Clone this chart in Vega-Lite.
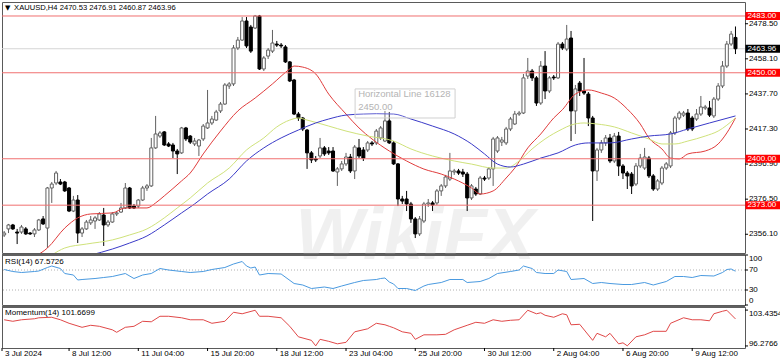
{
"$schema":"https://vega.github.io/schema/vega-lite/v6.json",
"padding":{"left":0,"top":1,"right":0,"bottom":0},
"background":"#ffffff",
"bounds":"flush",
"spacing":2,
"config":{"view":{"stroke":"#5a5a5a","strokeWidth":1},"scale":{"continuousPadding":0},"text":{"font":"Liberation Sans","fontSize":8,"color":"#000000"}},
"datasets":{
"candles":[
{"i":0,"o":2355.7,"h":2358.0,"l":2354.5,"c":2356.8},
{"i":1,"o":2359.2,"h":2362.1,"l":2356.8,"c":2361.5},
{"i":2,"o":2361.5,"h":2362.1,"l":2358.6,"c":2359.2},
{"i":3,"o":2357.4,"h":2359.2,"l":2350.4,"c":2356.8},
{"i":4,"o":2357.4,"h":2361.5,"l":2356.3,"c":2360.3},
{"i":5,"o":2359.2,"h":2360.3,"l":2355.7,"c":2356.3},
{"i":6,"o":2356.8,"h":2357.4,"l":2355.7,"c":2356.3},
{"i":7,"o":2356.3,"h":2359.7,"l":2354.5,"c":2358.6},
{"i":8,"o":2358.6,"h":2365.0,"l":2358.0,"c":2364.4},
{"i":9,"o":2365.0,"h":2366.7,"l":2361.5,"c":2362.1},
{"i":10,"o":2359.7,"h":2383.6,"l":2348.1,"c":2383.0},
{"i":11,"o":2383.0,"h":2386.5,"l":2374.3,"c":2385.3},
{"i":12,"o":2385.9,"h":2392.9,"l":2384.7,"c":2391.7},
{"i":13,"o":2386.5,"h":2388.2,"l":2384.7,"c":2385.3},
{"i":14,"o":2386.5,"h":2387.1,"l":2380.7,"c":2381.3},
{"i":15,"o":2383.0,"h":2383.6,"l":2369.0,"c":2369.6},
{"i":16,"o":2369.6,"h":2378.4,"l":2369.0,"c":2376.0},
{"i":17,"o":2376.0,"h":2378.9,"l":2351.0,"c":2356.8},
{"i":18,"o":2356.8,"h":2360.3,"l":2354.5,"c":2359.2},
{"i":19,"o":2359.2,"h":2364.4,"l":2358.6,"c":2363.2},
{"i":20,"o":2362.7,"h":2366.7,"l":2361.5,"c":2364.4},
{"i":21,"o":2363.8,"h":2366.7,"l":2359.2,"c":2365.6},
{"i":22,"o":2364.4,"h":2369.0,"l":2363.8,"c":2367.9},
{"i":23,"o":2367.3,"h":2371.4,"l":2349.3,"c":2361.5},
{"i":24,"o":2361.5,"h":2364.4,"l":2360.3,"c":2363.2},
{"i":25,"o":2363.2,"h":2369.0,"l":2362.7,"c":2367.9},
{"i":26,"o":2367.9,"h":2369.6,"l":2366.7,"c":2368.5},
{"i":27,"o":2369.0,"h":2374.3,"l":2368.5,"c":2371.4},
{"i":28,"o":2371.4,"h":2385.9,"l":2370.8,"c":2383.0},
{"i":29,"o":2383.0,"h":2383.6,"l":2370.8,"c":2371.4},
{"i":30,"o":2372.5,"h":2373.7,"l":2370.8,"c":2371.4},
{"i":31,"o":2372.5,"h":2376.6,"l":2371.4,"c":2376.0},
{"i":32,"o":2376.0,"h":2384.2,"l":2375.4,"c":2383.0},
{"i":33,"o":2383.0,"h":2385.3,"l":2381.3,"c":2384.2},
{"i":34,"o":2384.2,"h":2412.1,"l":2383.6,"c":2406.3},
{"i":35,"o":2406.3,"h":2424.9,"l":2405.7,"c":2414.4},
{"i":36,"o":2413.2,"h":2416.1,"l":2412.1,"c":2415.0},
{"i":37,"o":2415.6,"h":2416.1,"l":2407.4,"c":2408.0},
{"i":38,"o":2408.6,"h":2409.7,"l":2406.8,"c":2407.4},
{"i":39,"o":2408.0,"h":2409.2,"l":2400.4,"c":2404.5},
{"i":40,"o":2404.5,"h":2405.7,"l":2391.1,"c":2402.8},
{"i":41,"o":2403.4,"h":2418.5,"l":2402.8,"c":2417.9},
{"i":42,"o":2417.9,"h":2418.5,"l":2410.3,"c":2411.5},
{"i":43,"o":2413.2,"h":2413.8,"l":2408.6,"c":2409.7},
{"i":44,"o":2408.6,"h":2412.1,"l":2407.4,"c":2410.3},
{"i":45,"o":2407.4,"h":2411.5,"l":2401.6,"c":2410.9},
{"i":46,"o":2411.5,"h":2420.2,"l":2410.3,"c":2419.0},
{"i":47,"o":2417.9,"h":2440.0,"l":2417.3,"c":2420.8},
{"i":48,"o":2420.8,"h":2424.9,"l":2419.6,"c":2423.1},
{"i":49,"o":2422.5,"h":2428.4,"l":2422.0,"c":2427.2},
{"i":50,"o":2427.8,"h":2433.0,"l":2426.6,"c":2431.8},
{"i":51,"o":2431.8,"h":2444.0,"l":2431.3,"c":2442.9},
{"i":52,"o":2442.3,"h":2444.6,"l":2440.6,"c":2443.5},
{"i":53,"o":2443.5,"h":2466.1,"l":2442.3,"c":2464.4},
{"i":54,"o":2464.4,"h":2470.8,"l":2463.2,"c":2469.0},
{"i":55,"o":2469.0,"h":2482.4,"l":2468.5,"c":2480.1},
{"i":56,"o":2480.1,"h":2482.4,"l":2464.4,"c":2465.6},
{"i":57,"o":2476.6,"h":2477.8,"l":2461.5,"c":2462.6},
{"i":58,"o":2476.0,"h":2483.6,"l":2475.4,"c":2483.0},
{"i":59,"o":2483.0,"h":2483.6,"l":2451.6,"c":2452.2},
{"i":60,"o":2452.2,"h":2459.7,"l":2451.0,"c":2458.6},
{"i":61,"o":2459.7,"h":2464.4,"l":2458.0,"c":2463.2},
{"i":62,"o":2462.6,"h":2474.9,"l":2461.5,"c":2467.3},
{"i":63,"o":2466.7,"h":2468.5,"l":2465.0,"c":2466.1},
{"i":64,"o":2466.1,"h":2467.3,"l":2464.4,"c":2465.6},
{"i":65,"o":2465.0,"h":2466.1,"l":2455.7,"c":2456.3},
{"i":66,"o":2456.3,"h":2456.8,"l":2444.6,"c":2445.2},
{"i":67,"o":2445.8,"h":2446.4,"l":2425.4,"c":2426.0},
{"i":68,"o":2426.0,"h":2427.2,"l":2422.0,"c":2423.7},
{"i":69,"o":2423.7,"h":2424.3,"l":2416.1,"c":2417.3},
{"i":70,"o":2416.7,"h":2417.3,"l":2394.1,"c":2403.4},
{"i":71,"o":2403.4,"h":2404.5,"l":2397.5,"c":2399.3},
{"i":72,"o":2399.9,"h":2401.6,"l":2398.1,"c":2399.3},
{"i":73,"o":2401.6,"h":2412.1,"l":2400.4,"c":2406.3},
{"i":74,"o":2406.3,"h":2407.4,"l":2401.6,"c":2402.8},
{"i":75,"o":2404.5,"h":2406.8,"l":2402.2,"c":2403.4},
{"i":76,"o":2404.5,"h":2406.8,"l":2392.3,"c":2392.9},
{"i":77,"o":2392.3,"h":2395.2,"l":2384.2,"c":2394.1},
{"i":78,"o":2394.1,"h":2398.7,"l":2392.9,"c":2397.0},
{"i":79,"o":2397.0,"h":2403.4,"l":2395.8,"c":2401.0},
{"i":80,"o":2401.0,"h":2402.8,"l":2391.7,"c":2392.9},
{"i":81,"o":2392.9,"h":2408.0,"l":2388.2,"c":2406.8},
{"i":82,"o":2406.3,"h":2411.5,"l":2400.4,"c":2401.6},
{"i":83,"o":2405.1,"h":2406.8,"l":2398.7,"c":2400.4},
{"i":84,"o":2405.1,"h":2410.3,"l":2403.9,"c":2409.2},
{"i":85,"o":2409.2,"h":2410.3,"l":2407.4,"c":2408.6},
{"i":86,"o":2409.2,"h":2417.3,"l":2408.0,"c":2416.1},
{"i":87,"o":2412.1,"h":2419.0,"l":2410.9,"c":2417.9},
{"i":88,"o":2410.3,"h":2427.8,"l":2409.7,"c":2422.0},
{"i":89,"o":2422.0,"h":2427.2,"l":2408.6,"c":2409.2},
{"i":90,"o":2409.2,"h":2410.3,"l":2396.4,"c":2397.0},
{"i":91,"o":2397.0,"h":2397.5,"l":2372.5,"c":2376.6},
{"i":92,"o":2376.6,"h":2378.4,"l":2373.7,"c":2375.4},
{"i":93,"o":2376.6,"h":2381.3,"l":2369.6,"c":2373.7},
{"i":94,"o":2373.7,"h":2374.9,"l":2362.7,"c":2365.0},
{"i":95,"o":2365.0,"h":2366.1,"l":2353.9,"c":2356.3},
{"i":96,"o":2356.3,"h":2366.7,"l":2355.1,"c":2365.0},
{"i":97,"o":2363.8,"h":2374.9,"l":2362.7,"c":2373.7},
{"i":98,"o":2373.7,"h":2376.6,"l":2372.0,"c":2374.3},
{"i":99,"o":2374.3,"h":2375.4,"l":2369.6,"c":2373.1},
{"i":100,"o":2374.3,"h":2382.4,"l":2373.1,"c":2381.3},
{"i":101,"o":2381.3,"h":2385.3,"l":2378.4,"c":2384.2},
{"i":102,"o":2384.2,"h":2390.6,"l":2383.0,"c":2389.4},
{"i":103,"o":2388.2,"h":2403.4,"l":2387.1,"c":2392.9},
{"i":104,"o":2392.3,"h":2394.1,"l":2390.6,"c":2392.9},
{"i":105,"o":2392.9,"h":2394.1,"l":2390.6,"c":2391.7},
{"i":106,"o":2392.3,"h":2394.1,"l":2389.4,"c":2391.1},
{"i":107,"o":2391.1,"h":2392.3,"l":2369.6,"c":2377.2},
{"i":108,"o":2377.2,"h":2385.3,"l":2376.0,"c":2384.2},
{"i":109,"o":2382.4,"h":2383.6,"l":2378.4,"c":2379.5},
{"i":110,"o":2379.5,"h":2390.0,"l":2378.9,"c":2388.8},
{"i":111,"o":2388.8,"h":2390.0,"l":2387.1,"c":2388.2},
{"i":112,"o":2388.8,"h":2395.2,"l":2387.7,"c":2394.1},
{"i":113,"o":2394.1,"h":2412.7,"l":2384.2,"c":2411.5},
{"i":114,"o":2404.5,"h":2413.2,"l":2403.4,"c":2412.1},
{"i":115,"o":2409.7,"h":2412.7,"l":2407.4,"c":2410.9},
{"i":116,"o":2409.2,"h":2418.5,"l":2408.0,"c":2417.3},
{"i":117,"o":2417.3,"h":2424.3,"l":2416.1,"c":2423.1},
{"i":118,"o":2420.2,"h":2427.8,"l":2419.6,"c":2426.0},
{"i":119,"o":2426.0,"h":2427.8,"l":2424.9,"c":2426.6},
{"i":120,"o":2426.6,"h":2449.3,"l":2426.0,"c":2447.0},
{"i":121,"o":2448.1,"h":2458.6,"l":2446.4,"c":2451.0},
{"i":122,"o":2451.0,"h":2452.2,"l":2445.2,"c":2447.0},
{"i":123,"o":2447.0,"h":2448.1,"l":2430.7,"c":2432.4},
{"i":124,"o":2432.4,"h":2456.8,"l":2431.3,"c":2453.9},
{"i":125,"o":2453.9,"h":2462.6,"l":2434.7,"c":2439.4},
{"i":126,"o":2439.4,"h":2448.1,"l":2438.2,"c":2447.0},
{"i":127,"o":2447.5,"h":2448.7,"l":2445.8,"c":2447.0},
{"i":128,"o":2447.0,"h":2467.9,"l":2446.4,"c":2466.7},
{"i":129,"o":2466.7,"h":2467.9,"l":2463.2,"c":2464.4},
{"i":130,"o":2463.8,"h":2477.8,"l":2462.6,"c":2469.6},
{"i":131,"o":2470.2,"h":2474.3,"l":2410.3,"c":2427.8},
{"i":132,"o":2427.8,"h":2442.9,"l":2414.4,"c":2440.6},
{"i":133,"o":2444.0,"h":2445.2,"l":2436.5,"c":2439.4},
{"i":134,"o":2439.4,"h":2458.6,"l":2437.1,"c":2438.2},
{"i":135,"o":2437.6,"h":2438.8,"l":2419.0,"c":2423.7},
{"i":136,"o":2423.7,"h":2424.9,"l":2363.8,"c":2392.9},
{"i":137,"o":2392.9,"h":2406.3,"l":2387.1,"c":2405.1},
{"i":138,"o":2405.1,"h":2410.9,"l":2403.4,"c":2409.2},
{"i":139,"o":2409.2,"h":2413.8,"l":2407.4,"c":2412.1},
{"i":140,"o":2412.1,"h":2414.4,"l":2397.5,"c":2398.7},
{"i":141,"o":2398.7,"h":2415.0,"l":2397.5,"c":2413.2},
{"i":142,"o":2413.2,"h":2415.6,"l":2390.0,"c":2395.8},
{"i":143,"o":2395.8,"h":2396.9,"l":2388.2,"c":2391.7},
{"i":144,"o":2391.7,"h":2392.9,"l":2382.4,"c":2390.0},
{"i":145,"o":2391.1,"h":2392.3,"l":2379.5,"c":2384.2},
{"i":146,"o":2385.3,"h":2397.5,"l":2384.2,"c":2395.8},
{"i":147,"o":2395.8,"h":2402.8,"l":2394.6,"c":2400.4},
{"i":148,"o":2394.6,"h":2406.3,"l":2393.5,"c":2401.0},
{"i":149,"o":2400.4,"h":2401.6,"l":2388.8,"c":2390.0},
{"i":150,"o":2390.0,"h":2391.1,"l":2381.3,"c":2382.4},
{"i":151,"o":2382.4,"h":2388.2,"l":2381.3,"c":2387.1},
{"i":152,"o":2385.9,"h":2395.8,"l":2384.7,"c":2394.6},
{"i":153,"o":2394.6,"h":2398.1,"l":2393.5,"c":2397.0},
{"i":154,"o":2395.8,"h":2416.1,"l":2394.6,"c":2415.0},
{"i":155,"o":2415.0,"h":2424.9,"l":2413.8,"c":2423.7},
{"i":156,"o":2423.7,"h":2427.8,"l":2422.5,"c":2426.6},
{"i":157,"o":2425.4,"h":2427.8,"l":2424.3,"c":2426.6},
{"i":158,"o":2426.6,"h":2428.9,"l":2416.1,"c":2417.3},
{"i":159,"o":2423.7,"h":2424.9,"l":2416.1,"c":2417.3},
{"i":160,"o":2423.1,"h":2428.9,"l":2422.0,"c":2426.0},
{"i":161,"o":2426.0,"h":2436.5,"l":2424.9,"c":2430.1},
{"i":162,"o":2429.5,"h":2431.3,"l":2428.4,"c":2430.1},
{"i":163,"o":2429.5,"h":2433.6,"l":2424.3,"c":2425.4},
{"i":164,"o":2424.9,"h":2435.9,"l":2423.7,"c":2434.7},
{"i":165,"o":2434.7,"h":2444.0,"l":2433.6,"c":2442.3},
{"i":166,"o":2442.3,"h":2456.8,"l":2441.1,"c":2453.9},
{"i":167,"o":2453.9,"h":2468.5,"l":2452.8,"c":2466.7},
{"i":168,"o":2466.7,"h":2474.3,"l":2465.6,"c":2472.5},
{"i":169,"o":2470.53,"h":2476.91,"l":2460.87,"c":2463.96}
],
"ma":[
{"s":"r","i":7,"v":2343},{"s":"r","i":10,"v":2348.1},{"s":"r","i":14,"v":2359.7},{"s":"r","i":17,"v":2365.6},{"s":"r","i":20,"v":2367.9},{"s":"r","i":25,"v":2368.5},{"s":"r","i":28,"v":2371.4},{"s":"r","i":33,"v":2371.4},{"s":"r","i":35,"v":2374.3},{"s":"r","i":37,"v":2378.4},{"s":"r","i":41,"v":2387.1},{"s":"r","i":43,"v":2391.7},{"s":"r","i":46,"v":2402.8},{"s":"r","i":50,"v":2416.1},{"s":"r","i":54,"v":2427.8},{"s":"r","i":58,"v":2435.3},{"s":"r","i":62,"v":2443.5},{"s":"r","i":66,"v":2452.2},{"s":"r","i":67,"v":2453.9},{"s":"r","i":69,"v":2453.3},{"s":"r","i":72,"v":2449.3},{"s":"r","i":75,"v":2437.6},{"s":"r","i":79,"v":2426.0},{"s":"r","i":82,"v":2417.9},{"s":"r","i":85,"v":2411.5},{"s":"r","i":89,"v":2404.5},{"s":"r","i":93,"v":2398.7},{"s":"r","i":97,"v":2394.0},{"s":"r","i":101,"v":2391.1},{"s":"r","i":104,"v":2388.2},{"s":"r","i":108,"v":2383.0},{"s":"r","i":110,"v":2379.5},{"s":"r","i":113,"v":2381.3},{"s":"r","i":116,"v":2388.8},{"s":"r","i":118,"v":2394.6},{"s":"r","i":121,"v":2406.3},{"s":"r","i":124,"v":2414.4},{"s":"r","i":127,"v":2423.7},{"s":"r","i":129,"v":2428.5},{"s":"r","i":132,"v":2437.6},{"s":"r","i":135,"v":2440.0},{"s":"r","i":138,"v":2438.2},{"s":"r","i":141,"v":2435.3},{"s":"r","i":144,"v":2428.9},{"s":"r","i":147,"v":2420.2},{"s":"r","i":149,"v":2412.1},{"s":"r","i":152,"v":2405.7},{"s":"r","i":154,"v":2400.4},{"s":"r","i":156,"v":2399.9},{"s":"r","i":158,"v":2402.8},{"s":"r","i":162,"v":2404.5},{"s":"r","i":165,"v":2408.6},{"s":"r","i":167,"v":2415.0},{"s":"r","i":169,"v":2423.7},
{"s":"y","i":11,"v":2344},{"s":"y","i":14,"v":2348.1},{"s":"y","i":19,"v":2350.4},{"s":"y","i":25,"v":2352.8},{"s":"y","i":29,"v":2355.7},{"s":"y","i":33,"v":2359.2},{"s":"y","i":37,"v":2365.6},{"s":"y","i":40,"v":2371.4},{"s":"y","i":43,"v":2377.2},{"s":"y","i":47,"v":2385.9},{"s":"y","i":52,"v":2394.6},{"s":"y","i":56,"v":2405.1},{"s":"y","i":60,"v":2412.1},{"s":"y","i":63,"v":2418.5},{"s":"y","i":66,"v":2422.5},{"s":"y","i":68,"v":2423.7},{"s":"y","i":70,"v":2422.5},{"s":"y","i":75,"v":2419.0},{"s":"y","i":79,"v":2416.1},{"s":"y","i":84,"v":2413.2},{"s":"y","i":90,"v":2410.3},{"s":"y","i":94,"v":2405.7},{"s":"y","i":99,"v":2401.6},{"s":"y","i":104,"v":2398.7},{"s":"y","i":108,"v":2396.9},{"s":"y","i":113,"v":2394.6},{"s":"y","i":116,"v":2394.6},{"s":"y","i":119,"v":2398.7},{"s":"y","i":122,"v":2405.7},{"s":"y","i":125,"v":2411.5},{"s":"y","i":129,"v":2417.3},{"s":"y","i":131,"v":2419.6},{"s":"y","i":134,"v":2420.8},{"s":"y","i":137,"v":2420.2},{"s":"y","i":141,"v":2418.5},{"s":"y","i":145,"v":2415.0},{"s":"y","i":149,"v":2411.5},{"s":"y","i":152,"v":2408.6},{"s":"y","i":155,"v":2408.6},{"s":"y","i":158,"v":2410.3},{"s":"y","i":162,"v":2413.2},{"s":"y","i":165,"v":2416.1},{"s":"y","i":169,"v":2423.7},
{"s":"b","i":20,"v":2344},{"s":"b","i":25,"v":2347.5},{"s":"b","i":29,"v":2351.0},{"s":"b","i":33,"v":2355.1},{"s":"b","i":37,"v":2361.5},{"s":"b","i":41,"v":2368.5},{"s":"b","i":44,"v":2373.7},{"s":"b","i":47,"v":2379.5},{"s":"b","i":52,"v":2388.2},{"s":"b","i":56,"v":2398.7},{"s":"b","i":60,"v":2406.3},{"s":"b","i":64,"v":2412.1},{"s":"b","i":68,"v":2416.7},{"s":"b","i":72,"v":2420.8},{"s":"b","i":75,"v":2423.1},{"s":"b","i":79,"v":2425.4},{"s":"b","i":83,"v":2426.0},{"s":"b","i":86,"v":2426.2},{"s":"b","i":90,"v":2426.0},{"s":"b","i":94,"v":2423.1},{"s":"b","i":99,"v":2419.0},{"s":"b","i":104,"v":2414.4},{"s":"b","i":108,"v":2408.6},{"s":"b","i":111,"v":2402.8},{"s":"b","i":114,"v":2396.9},{"s":"b","i":117,"v":2395.2},{"s":"b","i":120,"v":2396.9},{"s":"b","i":124,"v":2400.4},{"s":"b","i":128,"v":2403.4},{"s":"b","i":132,"v":2408.0},{"s":"b","i":135,"v":2409.2},{"s":"b","i":140,"v":2409.2},{"s":"b","i":145,"v":2411.5},{"s":"b","i":149,"v":2413.2},{"s":"b","i":154,"v":2414.4},{"s":"b","i":158,"v":2417.3},{"s":"b","i":163,"v":2420.8},{"s":"b","i":169,"v":2424.9}
],
"rsi":[
{"i":0,"v":71},{"i":2,"v":67},{"i":4,"v":65},{"i":7,"v":67},{"i":8,"v":68},{"i":10,"v":75},{"i":11,"v":78},{"i":13,"v":73},{"i":14,"v":63},{"i":16,"v":60},{"i":17,"v":50},{"i":18,"v":51},{"i":21,"v":53},{"i":23,"v":55},{"i":25,"v":57},{"i":28,"v":63},{"i":30,"v":53},{"i":32,"v":60},{"i":34,"v":63},{"i":36,"v":73},{"i":38,"v":70},{"i":41,"v":67},{"i":43,"v":65},{"i":46,"v":67},{"i":48,"v":71},{"i":51,"v":75},{"i":53,"v":82},{"i":55,"v":87},{"i":56,"v":78},{"i":57,"v":74},{"i":58,"v":76},{"i":59,"v":60},{"i":61,"v":63},{"i":64,"v":62},{"i":67,"v":43},{"i":69,"v":40},{"i":71,"v":33},{"i":74,"v":36},{"i":76,"v":33},{"i":78,"v":38},{"i":81,"v":45},{"i":83,"v":49},{"i":86,"v":51},{"i":87,"v":53},{"i":88,"v":54},{"i":89,"v":46},{"i":90,"v":42},{"i":91,"v":33},{"i":93,"v":33},{"i":95,"v":29},{"i":97,"v":38},{"i":98,"v":41},{"i":101,"v":45},{"i":103,"v":51},{"i":106,"v":51},{"i":107,"v":45},{"i":110,"v":47},{"i":112,"v":53},{"i":114,"v":63},{"i":117,"v":67},{"i":119,"v":70},{"i":120,"v":78},{"i":122,"v":73},{"i":123,"v":65},{"i":125,"v":63},{"i":127,"v":63},{"i":128,"v":70},{"i":130,"v":67},{"i":131,"v":51},{"i":134,"v":53},{"i":136,"v":43},{"i":138,"v":45},{"i":140,"v":43},{"i":143,"v":41},{"i":145,"v":41},{"i":148,"v":45},{"i":150,"v":40},{"i":153,"v":47},{"i":155,"v":57},{"i":157,"v":57},{"i":159,"v":55},{"i":161,"v":59},{"i":164,"v":58},{"i":166,"v":65},{"i":167,"v":71},{"i":168,"v":72},{"i":169,"v":67.57}
],
"mom":[
{"i":0,"v":101.5},{"i":2,"v":101.2},{"i":4,"v":101.5},{"i":7,"v":101.7},{"i":8,"v":101.9},{"i":11,"v":102.0},{"i":13,"v":101.5},{"i":15,"v":100.8},{"i":18,"v":100.0},{"i":20,"v":100.4},{"i":22,"v":100.2},{"i":25,"v":99.5},{"i":26,"v":99.0},{"i":28,"v":100.0},{"i":30,"v":100.2},{"i":32,"v":101.2},{"i":34,"v":101.1},{"i":36,"v":102.2},{"i":38,"v":102.2},{"i":41,"v":101.9},{"i":43,"v":101.5},{"i":46,"v":101.5},{"i":48,"v":100.8},{"i":51,"v":101.2},{"i":53,"v":103.0},{"i":55,"v":102.7},{"i":58,"v":103.4},{"i":59,"v":102.2},{"i":61,"v":102.2},{"i":64,"v":101.9},{"i":66,"v":100.2},{"i":68,"v":98.1},{"i":71,"v":97.4},{"i":72,"v":96.3},{"i":73,"v":97.6},{"i":75,"v":97.2},{"i":77,"v":96.7},{"i":79,"v":97.0},{"i":81,"v":99.1},{"i":84,"v":99.7},{"i":86,"v":100.8},{"i":88,"v":100.5},{"i":89,"v":100.2},{"i":90,"v":99.9},{"i":92,"v":99.1},{"i":94,"v":98.8},{"i":95,"v":97.6},{"i":97,"v":98.5},{"i":100,"v":98.5},{"i":102,"v":98.6},{"i":104,"v":99.5},{"i":107,"v":100.4},{"i":109,"v":101.0},{"i":111,"v":100.8},{"i":113,"v":101.5},{"i":115,"v":101.2},{"i":117,"v":101.4},{"i":119,"v":101.5},{"i":121,"v":103.4},{"i":123,"v":102.7},{"i":124,"v":102.9},{"i":125,"v":102.4},{"i":127,"v":102.0},{"i":129,"v":102.7},{"i":130,"v":102.5},{"i":131,"v":100.5},{"i":133,"v":100.6},{"i":136,"v":97.4},{"i":137,"v":98.8},{"i":139,"v":98.1},{"i":140,"v":98.8},{"i":142,"v":96.7},{"i":143,"v":96.9},{"i":144,"v":96.3},{"i":146,"v":98.1},{"i":148,"v":98.5},{"i":150,"v":99.2},{"i":153,"v":99.2},{"i":154,"v":100.8},{"i":157,"v":101.9},{"i":159,"v":101.5},{"i":161,"v":101.5},{"i":163,"v":101.3},{"i":164,"v":102.7},{"i":166,"v":103.2},{"i":167,"v":103.4},{"i":169,"v":101.67}
],
"tags":[{"lv":2483,"t":"2483.00","k":"level"},{"lv":2450,"t":"2450.00","k":"level"},{"lv":2400,"t":"2400.00","k":"level"},{"lv":2373,"t":"2373.00","k":"level"},{"lv":2463.96,"t":"2463.96","k":"price"}],
"pax":[{"v":2478.5,"t":"2478.50"},{"v":2458.1,"t":"2458.10"},{"v":2437.7,"t":"2437.70"},{"v":2417.3,"t":"2417.30"},{"v":2396.9,"t":"2396.90"},{"v":2376.5,"t":"2376.50"},{"v":2356.1,"t":"2356.10"}],
"rax":[{"v":100,"t":"100"},{"v":70,"t":"70"},{"v":30,"t":"30"},{"v":0,"t":"0"}],
"max":[{"v":103.4354,"t":"103.4354"},{"v":96.2766,"t":"96.2766"}],
"xax":[{"i":-0.5,"t":"3 Jul 2024"},{"i":15,"t":"8 Jul 12:00"},{"i":31,"t":"11 Jul 04:00"},{"i":47,"t":"15 Jul 20:00"},{"i":63,"t":"18 Jul 12:00"},{"i":79,"t":"23 Jul 04:00"},{"i":95,"t":"25 Jul 20:00"},{"i":111,"t":"30 Jul 12:00"},{"i":127,"t":"2 Aug 04:00"},{"i":143,"t":"6 Aug 20:00"},{"i":159,"t":"9 Aug 12:00"}]
},
"vconcat":[
{
"width":743,"height":251,
"layer":[
{"data":{"name":"tags"},"transform":[{"filter":"datum.k=='price'"}],"mark":{"type":"rule","color":"#d6d6d6","strokeWidth":1},"encoding":{"y":{"field":"lv","type":"quantitative","scale":{"domain":[2345.2,2491.14],"nice":false,"zero":false,"padding":0},"axis":null}}},
{"data":{"values":[{"t":"WikiFX"}]},"mark":{"type":"text","fontSize":72,"fontWeight":"bold","fontStyle":"italic","color":"#c0c0c0","opacity":0.22,"align":"center","baseline":"alphabetic"},"encoding":{"x":{"datum":95,"type":"quantitative","scale":{"domain":[-0.5,171.2],"nice":false,"zero":false,"padding":0},"axis":null},"y":{"datum":2342,"type":"quantitative","scale":{"domain":[2345.2,2491.14],"nice":false,"zero":false,"padding":0},"axis":null},"text":{"field":"t"}}},
{"data":{"name":"candles"},"mark":{"type":"rule","strokeWidth":1},"encoding":{"x":{"field":"i","type":"quantitative","scale":{"domain":[-0.5,171.2],"nice":false,"zero":false,"padding":0},"axis":null},"y":{"field":"l","type":"quantitative","scale":{"domain":[2345.2,2491.14],"nice":false,"zero":false,"padding":0},"axis":null},"y2":{"field":"h"},"color":{"condition":{"test":"datum.c >= datum.o","value":"#606060"},"value":"#000000"}}},
{"data":{"name":"candles"},"mark":{"type":"bar","width":3,"strokeWidth":1},"encoding":{"x":{"field":"i","type":"quantitative","scale":{"domain":[-0.5,171.2],"nice":false,"zero":false,"padding":0},"axis":null},"y":{"field":"o","type":"quantitative","scale":{"domain":[2345.2,2491.14],"nice":false,"zero":false,"padding":0},"axis":null},"y2":{"field":"c"},"fill":{"condition":{"test":"datum.c >= datum.o","value":"#ffffff"},"value":"#000000"},"stroke":{"condition":{"test":"datum.c >= datum.o","value":"#606060"},"value":"#000000"}}},
{"data":{"name":"ma"},"mark":{"type":"line","strokeWidth":1,"clip":true,"interpolate":"monotone"},"encoding":{"x":{"field":"i","type":"quantitative","scale":{"domain":[-0.5,171.2],"nice":false,"zero":false,"padding":0},"axis":null},"y":{"field":"v","type":"quantitative","scale":{"domain":[2345.2,2491.14],"nice":false,"zero":false,"padding":0},"axis":null},"color":{"field":"s","type":"nominal","scale":{"domain":["r","y","b"],"range":["#e03c3c","#cfe27a","#3a3ac8"]},"legend":null}}},
{"data":{"name":"tags"},"transform":[{"filter":"datum.k=='level'"}],"mark":{"type":"rule","color":"#f07070","strokeWidth":1},"encoding":{"y":{"field":"lv","type":"quantitative","scale":{"domain":[2345.2,2491.14],"nice":false,"zero":false,"padding":0},"axis":null}}},
{"data":{"values":[{}]},"mark":{"type":"rect","fill":"#ffffff","fillOpacity":0.2,"stroke":"#d0d0d0","strokeWidth":1},"encoding":{"x":{"datum":81.1,"type":"quantitative","scale":{"domain":[-0.5,171.2],"nice":false,"zero":false,"padding":0},"axis":null},"x2":{"datum":104.2},"y":{"datum":2440.6,"type":"quantitative","scale":{"domain":[2345.2,2491.14],"nice":false,"zero":false,"padding":0},"axis":null},"y2":{"datum":2423.7}}},
{"data":{"values":[{"t":"Horizontal Line 16128"}]},"mark":{"type":"text","align":"left","baseline":"middle","fontSize":9.5,"color":"#b4b4b4"},"encoding":{"x":{"datum":81.8,"type":"quantitative","scale":{"domain":[-0.5,171.2],"nice":false,"zero":false,"padding":0},"axis":null},"y":{"datum":2437.65,"type":"quantitative","scale":{"domain":[2345.2,2491.14],"nice":false,"zero":false,"padding":0},"axis":null},"text":{"field":"t"}}},
{"data":{"values":[{"t":"2450.00"}]},"mark":{"type":"text","align":"left","baseline":"middle","fontSize":9.5,"color":"#b4b4b4"},"encoding":{"x":{"datum":81.8,"type":"quantitative","scale":{"domain":[-0.5,171.2],"nice":false,"zero":false,"padding":0},"axis":null},"y":{"datum":2430.1,"type":"quantitative","scale":{"domain":[2345.2,2491.14],"nice":false,"zero":false,"padding":0},"axis":null},"text":{"field":"t"}}},
{"data":{"values":[{"t":"▼"}]},"mark":{"type":"text","align":"left","baseline":"middle","fontSize":7,"font":"DejaVu Sans"},"encoding":{"x":{"datum":0.2,"type":"quantitative","scale":{"domain":[-0.5,171.2],"nice":false,"zero":false,"padding":0},"axis":null},"y":{"datum":2487.6,"type":"quantitative","scale":{"domain":[2345.2,2491.14],"nice":false,"zero":false,"padding":0},"axis":null},"text":{"field":"t"}}},
{"data":{"values":[{"t":"XAUUSD,H4 2470.53 2476.91 2460.87 2463.96"}]},"mark":{"type":"text","align":"left","baseline":"middle","fontSize":7.6},"encoding":{"x":{"datum":2.3,"type":"quantitative","scale":{"domain":[-0.5,171.2],"nice":false,"zero":false,"padding":0},"axis":null},"y":{"datum":2487.6,"type":"quantitative","scale":{"domain":[2345.2,2491.14],"nice":false,"zero":false,"padding":0},"axis":null},"text":{"field":"t"}}},
{"data":{"name":"pax"},"mark":{"type":"rule","color":"#000000","strokeWidth":1},"encoding":{"x":{"datum":171.2,"type":"quantitative","scale":{"domain":[-0.5,171.2],"nice":false,"zero":false,"padding":0},"axis":null},"x2":{"datum":171.9},"y":{"field":"v","type":"quantitative","scale":{"domain":[2345.2,2491.14],"nice":false,"zero":false,"padding":0},"axis":null}}},
{"data":{"name":"pax"},"mark":{"type":"text","align":"left","baseline":"middle","fontSize":8},"encoding":{"x":{"datum":172.1,"type":"quantitative","scale":{"domain":[-0.5,171.2],"nice":false,"zero":false,"padding":0},"axis":null},"y":{"field":"v","type":"quantitative","scale":{"domain":[2345.2,2491.14],"nice":false,"zero":false,"padding":0},"axis":null},"text":{"field":"t"}}},
{"data":{"name":"tags"},"mark":{"type":"bar","height":8},"encoding":{"x":{"datum":171.3,"type":"quantitative","scale":{"domain":[-0.5,171.2],"nice":false,"zero":false,"padding":0},"axis":null},"x2":{"datum":179.6},"y":{"field":"lv","type":"quantitative","scale":{"domain":[2345.2,2491.14],"nice":false,"zero":false,"padding":0},"axis":null},"color":{"condition":{"test":"datum.k=='price'","value":"#000000"},"value":"#ff0000"}}},
{"data":{"name":"tags"},"mark":{"type":"text","align":"left","baseline":"middle","fontSize":8,"color":"#ffffff"},"encoding":{"x":{"datum":171.75,"type":"quantitative","scale":{"domain":[-0.5,171.2],"nice":false,"zero":false,"padding":0},"axis":null},"y":{"field":"lv","type":"quantitative","scale":{"domain":[2345.2,2491.14],"nice":false,"zero":false,"padding":0},"axis":null},"text":{"field":"t"}}}
]
},
{
"width":743,"height":50,
"layer":[
{"data":{"values":[{"lv":70},{"lv":30}]},"mark":{"type":"rule","color":"#b0b0b0","strokeDash":[1,2],"strokeWidth":1},"encoding":{"y":{"field":"lv","type":"quantitative","scale":{"domain":[0,100],"nice":false,"zero":false},"axis":null}}},
{"data":{"values":[{"lv":100}]},"mark":{"type":"rule","color":"#606060","strokeWidth":2},"encoding":{"y":{"field":"lv","type":"quantitative","scale":{"domain":[0,100],"nice":false,"zero":false},"axis":null}}},
{"data":{"name":"rsi"},"mark":{"type":"line","color":"#4a9ae0","strokeWidth":1},"encoding":{"x":{"field":"i","type":"quantitative","scale":{"domain":[-0.5,171.2],"nice":false,"zero":false},"axis":null},"y":{"field":"v","type":"quantitative","scale":{"domain":[0,100],"nice":false,"zero":false},"axis":null}}},
{"data":{"values":[{"t":"RSI(14) 67.5726"}]},"mark":{"type":"text","align":"left","baseline":"middle","fontSize":8},"encoding":{"x":{"datum":0.2,"type":"quantitative","scale":{"domain":[-0.5,171.2],"nice":false,"zero":false},"axis":null},"y":{"datum":86,"type":"quantitative","scale":{"domain":[0,100],"nice":false,"zero":false},"axis":null},"text":{"field":"t"}}},
{"data":{"name":"rax"},"mark":{"type":"rule","color":"#000000","strokeWidth":1},"encoding":{"x":{"datum":171.2,"type":"quantitative","scale":{"domain":[-0.5,171.2],"nice":false,"zero":false},"axis":null},"x2":{"datum":171.9},"y":{"field":"v","type":"quantitative","scale":{"domain":[0,100],"nice":false,"zero":false},"axis":null}}},
{"data":{"name":"rax"},"transform":[{"filter":"datum.v==100"}],"mark":{"type":"text","align":"left","baseline":"top","fontSize":8},"encoding":{"x":{"datum":172.1,"type":"quantitative","scale":{"domain":[-0.5,171.2],"nice":false,"zero":false},"axis":null},"y":{"field":"v","type":"quantitative","scale":{"domain":[0,100],"nice":false,"zero":false},"axis":null},"text":{"field":"t"}}},
{"data":{"name":"rax"},"transform":[{"filter":"datum.v==70 || datum.v==30"}],"mark":{"type":"text","align":"left","baseline":"middle","fontSize":8},"encoding":{"x":{"datum":172.1,"type":"quantitative","scale":{"domain":[-0.5,171.2],"nice":false,"zero":false},"axis":null},"y":{"field":"v","type":"quantitative","scale":{"domain":[0,100],"nice":false,"zero":false},"axis":null},"text":{"field":"t"}}},
{"data":{"name":"rax"},"transform":[{"filter":"datum.v==0"}],"mark":{"type":"text","align":"left","baseline":"bottom","fontSize":8},"encoding":{"x":{"datum":172.1,"type":"quantitative","scale":{"domain":[-0.5,171.2],"nice":false,"zero":false},"axis":null},"y":{"field":"v","type":"quantitative","scale":{"domain":[0,100],"nice":false,"zero":false},"axis":null},"text":{"field":"t"}}}
]
},
{
"width":743,"height":41,
"layer":[
{"data":{"values":[{"lv":104.05}]},"mark":{"type":"rule","color":"#606060","strokeWidth":2},"encoding":{"y":{"field":"lv","type":"quantitative","scale":{"domain":[95.87,104.05],"nice":false,"zero":false},"axis":null}}},
{"data":{"name":"mom"},"mark":{"type":"line","color":"#e04848","strokeWidth":1},"encoding":{"x":{"field":"i","type":"quantitative","scale":{"domain":[-0.5,171.2],"nice":false,"zero":false},"axis":null},"y":{"field":"v","type":"quantitative","scale":{"domain":[95.87,104.05],"nice":false,"zero":false},"axis":null}}},
{"data":{"values":[{"t":"Momentum(14) 101.6699"}]},"mark":{"type":"text","align":"left","baseline":"middle","fontSize":8},"encoding":{"x":{"datum":0.2,"type":"quantitative","scale":{"domain":[-0.5,171.2],"nice":false,"zero":false},"axis":null},"y":{"datum":102.85,"type":"quantitative","scale":{"domain":[95.87,104.05],"nice":false,"zero":false},"axis":null},"text":{"field":"t"}}},
{"data":{"name":"max"},"mark":{"type":"rule","color":"#000000","strokeWidth":1},"encoding":{"x":{"datum":171.2,"type":"quantitative","scale":{"domain":[-0.5,171.2],"nice":false,"zero":false},"axis":null},"x2":{"datum":171.9},"y":{"field":"v","type":"quantitative","scale":{"domain":[95.87,104.05],"nice":false,"zero":false},"axis":null}}},
{"data":{"name":"max"},"transform":[{"filter":"datum.v>100"}],"mark":{"type":"text","align":"left","baseline":"top","fontSize":8},"encoding":{"x":{"datum":172.1,"type":"quantitative","scale":{"domain":[-0.5,171.2],"nice":false,"zero":false},"axis":null},"y":{"field":"v","type":"quantitative","scale":{"domain":[95.87,104.05],"nice":false,"zero":false},"axis":null},"text":{"field":"t"}}},
{"data":{"name":"max"},"transform":[{"filter":"datum.v<100"}],"mark":{"type":"text","align":"left","baseline":"alphabetic","fontSize":8},"encoding":{"x":{"datum":172.1,"type":"quantitative","scale":{"domain":[-0.5,171.2],"nice":false,"zero":false},"axis":null},"y":{"field":"v","type":"quantitative","scale":{"domain":[95.87,104.05],"nice":false,"zero":false},"axis":null},"text":{"field":"t"}}},
{"data":{"name":"xax"},"mark":{"type":"rule","color":"#000000","strokeWidth":1},"encoding":{"x":{"field":"i","type":"quantitative","scale":{"domain":[-0.5,171.2],"nice":false,"zero":false},"axis":null},"y":{"datum":95.87,"type":"quantitative","scale":{"domain":[95.87,104.05],"nice":false,"zero":false},"axis":null},"y2":{"datum":95.27}}},
{"data":{"name":"xax"},"mark":{"type":"text","align":"left","baseline":"top","fontSize":8,"dx":3},"encoding":{"x":{"field":"i","type":"quantitative","scale":{"domain":[-0.5,171.2],"nice":false,"zero":false},"axis":null},"y":{"datum":95.47,"type":"quantitative","scale":{"domain":[95.87,104.05],"nice":false,"zero":false},"axis":null},"text":{"field":"t"}}}
]
}
]
}
